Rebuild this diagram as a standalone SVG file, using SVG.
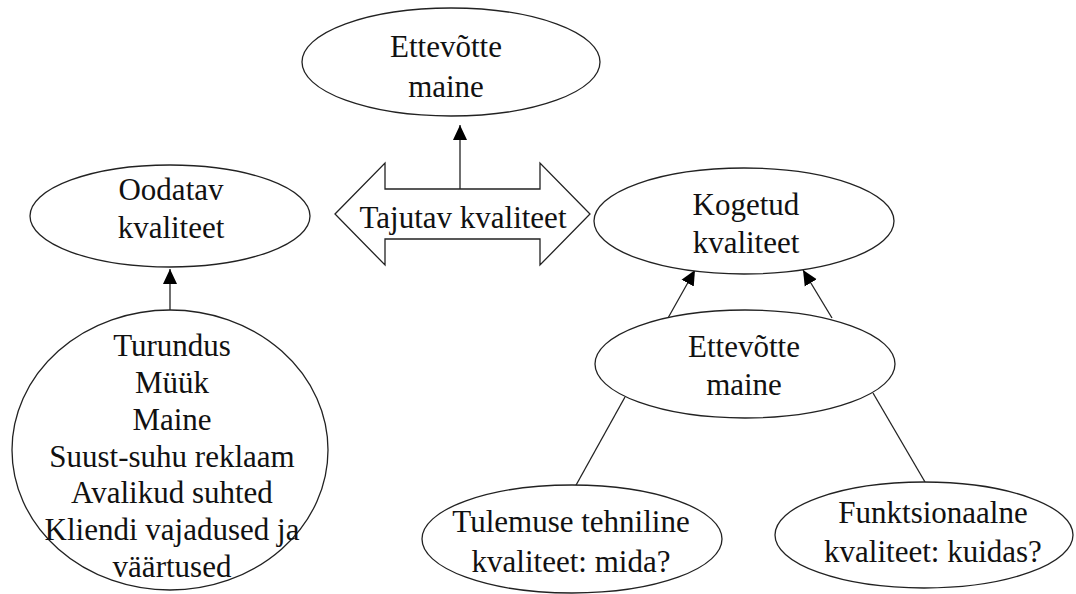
<svg xmlns="http://www.w3.org/2000/svg" width="1076" height="594" viewBox="0 0 1076 594">
<style>
.n{fill:#fff;stroke:#222;stroke-width:1.3}
.t{font-family:'Liberation Serif','Times New Roman',Tinos,'DejaVu Serif',serif;font-size:31px;fill:#111;text-anchor:middle}
.c{stroke:#222;stroke-width:1.3;fill:none}
</style>
<defs>
<marker id="ah" markerUnits="userSpaceOnUse" markerWidth="16" markerHeight="16" viewBox="0 0 16 16" refX="15" refY="8" orient="auto">
<path d="M0,1 L15,8 L0,15 Z" fill="#000"/>
</marker>
</defs>
<rect width="1076" height="594" fill="#fff"/>
<g id="connectors">
<line class="c" x1="460" y1="192" x2="460" y2="125" marker-end="url(#ah)"/>
<line class="c" x1="170" y1="310" x2="170" y2="269" marker-end="url(#ah)"/>
<line class="c" x1="668" y1="318" x2="695" y2="270" marker-end="url(#ah)"/>
<line class="c" x1="832" y1="318" x2="803" y2="270" marker-end="url(#ah)"/>
<line class="c" x1="625" y1="397" x2="575" y2="487"/>
<line class="c" x1="873" y1="393" x2="925" y2="482"/>
</g>
<g id="top-maine">
<ellipse class="n" cx="451" cy="62" rx="149" ry="54"/>
<text class="t" x="446" y="57">Ettevõtte</text>
<text class="t" x="446" y="97">maine</text>
</g>
<g id="tajutav">
<path class="n" d="M335,214 L385,163 L385,189 L540,189 L540,163 L590,214 L540,265 L540,239 L385,239 L385,265 Z"/>
<text class="t" x="463" y="228">Tajutav kvaliteet</text>
</g>
<g id="oodatav">
<ellipse class="n" cx="170" cy="216" rx="140" ry="51"/>
<text class="t" x="171" y="200">Oodatav</text>
<text class="t" x="171" y="238">kvaliteet</text>
</g>
<g id="kogetud">
<ellipse class="n" cx="744" cy="221" rx="150" ry="53"/>
<text class="t" x="746" y="215">Kogetud</text>
<text class="t" x="746" y="253">kvaliteet</text>
</g>
<g id="factors">
<ellipse class="n" cx="170" cy="450" rx="158" ry="140"/>
<text class="t" x="172" y="356">Turundus</text>
<text class="t" x="172" y="393">Müük</text>
<text class="t" x="172" y="430">Maine</text>
<text class="t" x="172" y="467">Suust-suhu reklaam</text>
<text class="t" x="172" y="503">Avalikud suhted</text>
<text class="t" x="172" y="540">Kliendi vajadused ja</text>
<text class="t" x="172" y="577">väärtused</text>
</g>
<g id="mid-maine">
<ellipse class="n" cx="745" cy="364" rx="150" ry="54"/>
<text class="t" x="744" y="357">Ettevõtte</text>
<text class="t" x="744" y="395">maine</text>
</g>
<g id="tulemuse">
<ellipse class="n" cx="572" cy="539" rx="150" ry="54"/>
<text class="t" x="571" y="532">Tulemuse tehniline</text>
<text class="t" x="571" y="572">kvaliteet: mida?</text>
</g>
<g id="funktsionaalne">
<ellipse class="n" cx="924" cy="535" rx="149" ry="53"/>
<text class="t" x="933" y="523">Funktsionaalne</text>
<text class="t" x="933" y="562">kvaliteet: kuidas?</text>
</g>
</svg>
